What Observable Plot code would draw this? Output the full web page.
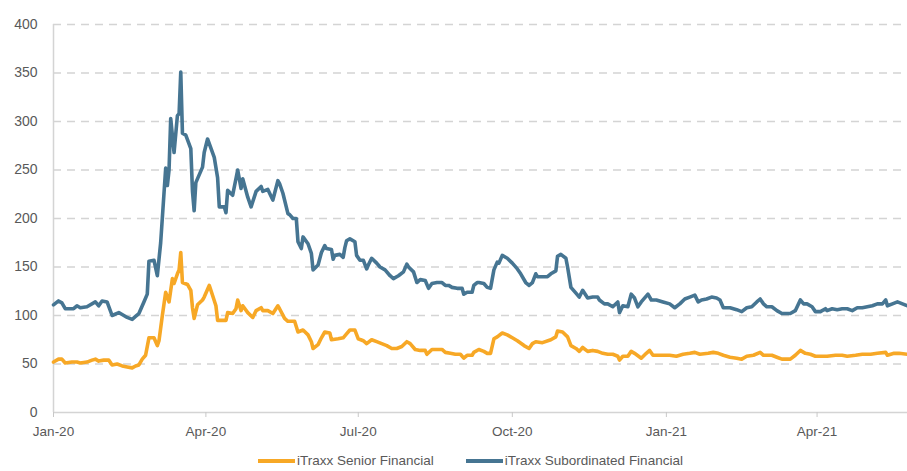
<!DOCTYPE html>
<html>
<head>
<meta charset="utf-8">
<script src="https://cdn.jsdelivr.net/npm/d3@7"></script>
<script src="https://cdn.jsdelivr.net/npm/@observablehq/plot@0.6"></script>
<style>
  html, body { margin: 0; padding: 0; background: #fff; }
  #wrap { position: relative; width: 907px; height: 471px; overflow: hidden; font-family: "Liberation Sans", Arial, sans-serif; }
  #legend { position: absolute; left: 258px; top: 452px; height: 18px; line-height: 18px; display: flex; align-items: center; font-size: 13.5px; color: #595959; white-space: nowrap; }
  .item { display: flex; align-items: center; margin-right: 32px; }
  .swatch { display: inline-block; width: 37px; height: 4px; margin-right: 2px; }
</style>
</head>
<body>
<div id="wrap"><div id="chart"></div><div id="legend"></div></div>
<script>
const seriesNames = ["iTraxx Senior Financial", "iTraxx Subordinated Financial"];
const seriesColors = ["#F7A826", "#467592"];
const yTicks = [0, 50, 100, 150, 200, 250, 300, 350, 400];
const xTickDates = ["2020-01-01", "2020-04-01", "2020-07-01", "2020-10-01", "2021-01-01", "2021-04-01"];
const xDomain = ["2020-01-01", "2021-05-25"];

const subDates = ["2020-01-01","2020-01-04","2020-01-06","2020-01-08","2020-01-13","2020-01-15","2020-01-17","2020-01-21","2020-01-26","2020-01-28","2020-01-30","2020-02-02","2020-02-05","2020-02-09","2020-02-11","2020-02-14","2020-02-17","2020-02-19","2020-02-21","2020-02-24","2020-02-26","2020-02-27","2020-03-01","2020-03-03","2020-03-05","2020-03-08","2020-03-09","2020-03-10","2020-03-11","2020-03-13","2020-03-15","2020-03-16","2020-03-17","2020-03-18","2020-03-20","2020-03-23","2020-03-24","2020-03-25","2020-03-26","2020-03-30","2020-03-31","2020-04-02","2020-04-06","2020-04-08","2020-04-09","2020-04-12","2020-04-13","2020-04-14","2020-04-17","2020-04-20","2020-04-22","2020-04-23","2020-04-26","2020-04-28","2020-05-01","2020-05-04","2020-05-05","2020-05-08","2020-05-11","2020-05-14","2020-05-15","2020-05-17","2020-05-20","2020-05-21","2020-05-23","2020-05-25","2020-05-26","2020-05-28","2020-05-29","2020-06-01","2020-06-03","2020-06-04","2020-06-07","2020-06-09","2020-06-11","2020-06-12","2020-06-15","2020-06-16","2020-06-17","2020-06-20","2020-06-22","2020-06-23","2020-06-24","2020-06-26","2020-06-29","2020-06-30","2020-07-02","2020-07-04","2020-07-06","2020-07-07","2020-07-09","2020-07-12","2020-07-14","2020-07-17","2020-07-20","2020-07-22","2020-07-25","2020-07-28","2020-07-30","2020-07-31","2020-08-03","2020-08-05","2020-08-07","2020-08-10","2020-08-12","2020-08-14","2020-08-17","2020-08-20","2020-08-22","2020-08-24","2020-08-26","2020-08-29","2020-09-01","2020-09-02","2020-09-04","2020-09-07","2020-09-08","2020-09-10","2020-09-11","2020-09-14","2020-09-16","2020-09-18","2020-09-20","2020-09-22","2020-09-23","2020-09-25","2020-09-28","2020-10-01","2020-10-04","2020-10-06","2020-10-09","2020-10-11","2020-10-13","2020-10-15","2020-10-16","2020-10-19","2020-10-22","2020-10-24","2020-10-27","2020-10-28","2020-10-30","2020-11-02","2020-11-03","2020-11-05","2020-11-08","2020-11-10","2020-11-12","2020-11-15","2020-11-18","2020-11-21","2020-11-22","2020-11-25","2020-11-27","2020-11-30","2020-12-03","2020-12-04","2020-12-06","2020-12-09","2020-12-11","2020-12-13","2020-12-15","2020-12-17","2020-12-21","2020-12-23","2020-12-26","2020-12-30","2021-01-03","2021-01-06","2021-01-09","2021-01-12","2021-01-15","2021-01-18","2021-01-20","2021-01-22","2021-01-25","2021-01-28","2021-01-31","2021-02-02","2021-02-04","2021-02-08","2021-02-12","2021-02-15","2021-02-18","2021-02-21","2021-02-24","2021-02-26","2021-02-28","2021-03-02","2021-03-05","2021-03-08","2021-03-11","2021-03-13","2021-03-16","2021-03-19","2021-03-22","2021-03-24","2021-03-26","2021-03-29","2021-03-31","2021-04-03","2021-04-06","2021-04-07","2021-04-10","2021-04-13","2021-04-16","2021-04-19","2021-04-22","2021-04-25","2021-04-28","2021-05-01","2021-05-04","2021-05-07","2021-05-10","2021-05-12","2021-05-13","2021-05-16","2021-05-19","2021-05-22","2021-05-25"];
const subValues = [111,115,113,107,107,110,108,109,114,110,115,114,100,103,101,98,96,99,102,114,122,156,157,141,175,252,234,250,303,268,306,308,351,288,286,272,228,208,237,253,268,282,263,242,212,212,206,229,224,250,231,241,222,212,228,233,228,230,219,239,236,226,205,204,200,200,176,169,181,174,164,147,152,165,172,169,168,158,162,163,160,170,177,179,176,162,157,157,148,152,159,154,150,147,141,138,141,145,153,150,145,134,137,136,128,133,134,134,131,131,129,128,128,122,124,124,131,134,134,133,129,128,147,155,154,162,159,154,148,143,134,131,134,143,140,140,140,143,146,161,163,159,150,129,123,119,126,118,119,119,116,112,112,109,114,103,110,109,122,118,109,114,122,116,116,114,112,108,112,117,119,121,114,116,117,119,118,116,108,108,106,104,108,109,114,117,112,109,109,105,102,102,102,105,116,112,112,109,104,104,107,105,107,106,107,107,105,108,108,109,110,112,112,116,110,112,114,112,110];

const senDates = ["2020-01-01","2020-01-04","2020-01-06","2020-01-08","2020-01-12","2020-01-15","2020-01-17","2020-01-21","2020-01-24","2020-01-26","2020-01-28","2020-01-31","2020-02-03","2020-02-05","2020-02-08","2020-02-11","2020-02-14","2020-02-17","2020-02-19","2020-02-21","2020-02-23","2020-02-25","2020-02-27","2020-03-01","2020-03-03","2020-03-04","2020-03-06","2020-03-08","2020-03-10","2020-03-12","2020-03-13","2020-03-15","2020-03-16","2020-03-17","2020-03-18","2020-03-21","2020-03-23","2020-03-24","2020-03-25","2020-03-27","2020-03-30","2020-03-31","2020-04-03","2020-04-04","2020-04-07","2020-04-08","2020-04-13","2020-04-14","2020-04-17","2020-04-19","2020-04-20","2020-04-22","2020-04-23","2020-04-26","2020-04-29","2020-05-01","2020-05-04","2020-05-05","2020-05-08","2020-05-11","2020-05-14","2020-05-15","2020-05-18","2020-05-20","2020-05-24","2020-05-26","2020-05-29","2020-06-01","2020-06-03","2020-06-04","2020-06-07","2020-06-09","2020-06-11","2020-06-14","2020-06-15","2020-06-19","2020-06-22","2020-06-24","2020-06-26","2020-06-29","2020-07-01","2020-07-04","2020-07-06","2020-07-09","2020-07-12","2020-07-15","2020-07-18","2020-07-21","2020-07-24","2020-07-27","2020-07-30","2020-08-01","2020-08-04","2020-08-07","2020-08-10","2020-08-11","2020-08-14","2020-08-17","2020-08-20","2020-08-22","2020-08-25","2020-08-28","2020-08-31","2020-09-02","2020-09-04","2020-09-07","2020-09-08","2020-09-11","2020-09-14","2020-09-16","2020-09-18","2020-09-20","2020-09-22","2020-09-25","2020-09-28","2020-10-01","2020-10-04","2020-10-08","2020-10-11","2020-10-13","2020-10-15","2020-10-19","2020-10-24","2020-10-27","2020-10-28","2020-10-31","2020-11-03","2020-11-05","2020-11-08","2020-11-10","2020-11-12","2020-11-15","2020-11-18","2020-11-21","2020-11-24","2020-11-27","2020-11-30","2020-12-03","2020-12-04","2020-12-06","2020-12-09","2020-12-11","2020-12-13","2020-12-17","2020-12-20","2020-12-22","2020-12-24","2020-12-28","2021-01-03","2021-01-07","2021-01-11","2021-01-15","2021-01-18","2021-01-21","2021-01-26","2021-01-29","2021-02-01","2021-02-04","2021-02-08","2021-02-12","2021-02-15","2021-02-18","2021-02-22","2021-02-26","2021-02-28","2021-03-05","2021-03-08","2021-03-11","2021-03-16","2021-03-19","2021-03-22","2021-03-25","2021-03-28","2021-03-31","2021-04-04","2021-04-07","2021-04-12","2021-04-16","2021-04-19","2021-04-24","2021-04-28","2021-05-03","2021-05-07","2021-05-12","2021-05-13","2021-05-17","2021-05-20","2021-05-25"];
const senValues = [52,55,55,51,52,52,51,52,54,55,53,54,54,49,50,48,47,46,48,49,55,59,77,77,69,74,100,124,114,138,133,143,147,165,134,132,126,108,97,111,116,119,131,126,110,95,95,103,102,107,116,105,110,103,98,105,108,105,105,102,110,107,97,94,94,83,85,80,73,66,70,77,83,82,75,76,77,81,85,85,76,74,71,75,73,71,69,66,66,68,73,71,65,64,64,60,65,65,65,62,61,60,60,56,59,59,62,65,63,61,61,76,78,82,80,77,74,69,66,71,73,72,75,78,84,83,78,69,66,63,67,63,64,63,61,60,60,58,54,58,58,63,61,56,61,64,59,59,59,58,60,61,62,60,61,62,61,59,57,56,55,58,59,62,59,59,57,55,55,59,64,61,60,58,58,58,59,59,58,59,60,60,61,62,59,61,61,60];

const parse = d3.utcParse("%Y-%m-%d");
const rows = [
  ...senDates.map((d, i) => ({date: parse(d), value: senValues[i], series: seriesNames[0]})),
  ...subDates.map((d, i) => ({date: parse(d), value: subValues[i], series: seriesNames[1]}))
];

const chart = Plot.plot({
  width: 907,
  height: 447,
  marginLeft: 53,
  marginRight: 0,
  marginTop: 24,
  marginBottom: 35,
  style: {fontFamily: "'Liberation Sans', Arial, sans-serif", fontSize: "14px", color: "#595959", background: "#fff"},
  x: {type: "utc", domain: xDomain.map(parse), label: null},
  y: {domain: [0, 400], label: null},
  color: {domain: seriesNames, range: seriesColors},
  marks: [
    Plot.ruleY(yTicks.filter(d => d > 0), {stroke: "#d4d4d4", strokeWidth: 1.4, strokeDasharray: "8,6"}),
    Plot.ruleY([0], {stroke: "#d4d4d4", strokeWidth: 1.5}),
    Plot.ruleX([parse(xDomain[0])], {stroke: "#d4d4d4", strokeWidth: 1.5}),
    Plot.axisY({ticks: yTicks, tickSize: 0, tickPadding: 16, tickFormat: d => String(d), fill: "#595959", label: null}),
    Plot.axisX({ticks: xTickDates.map(parse), tickFormat: d3.utcFormat("%b-%y"), tickSize: 5, tickPadding: 9, stroke: "#c8c8c8", fill: "#595959", fontSize: 13.5, label: null}),
    Plot.line(rows, {x: "date", y: "value", z: "series", stroke: "series", strokeWidth: 3.6, strokeLinejoin: "round", strokeLinecap: "round"})
  ]
});
document.getElementById("chart").appendChild(chart);

const legend = document.getElementById("legend");
seriesNames.forEach((name, i) => {
  const item = document.createElement("div");
  item.className = "item";
  const sw = document.createElement("span");
  sw.className = "swatch";
  sw.style.background = seriesColors[i];
  const label = document.createElement("span");
  label.textContent = name;
  item.appendChild(sw);
  item.appendChild(label);
  legend.appendChild(item);
});
</script>
</body>
</html>
